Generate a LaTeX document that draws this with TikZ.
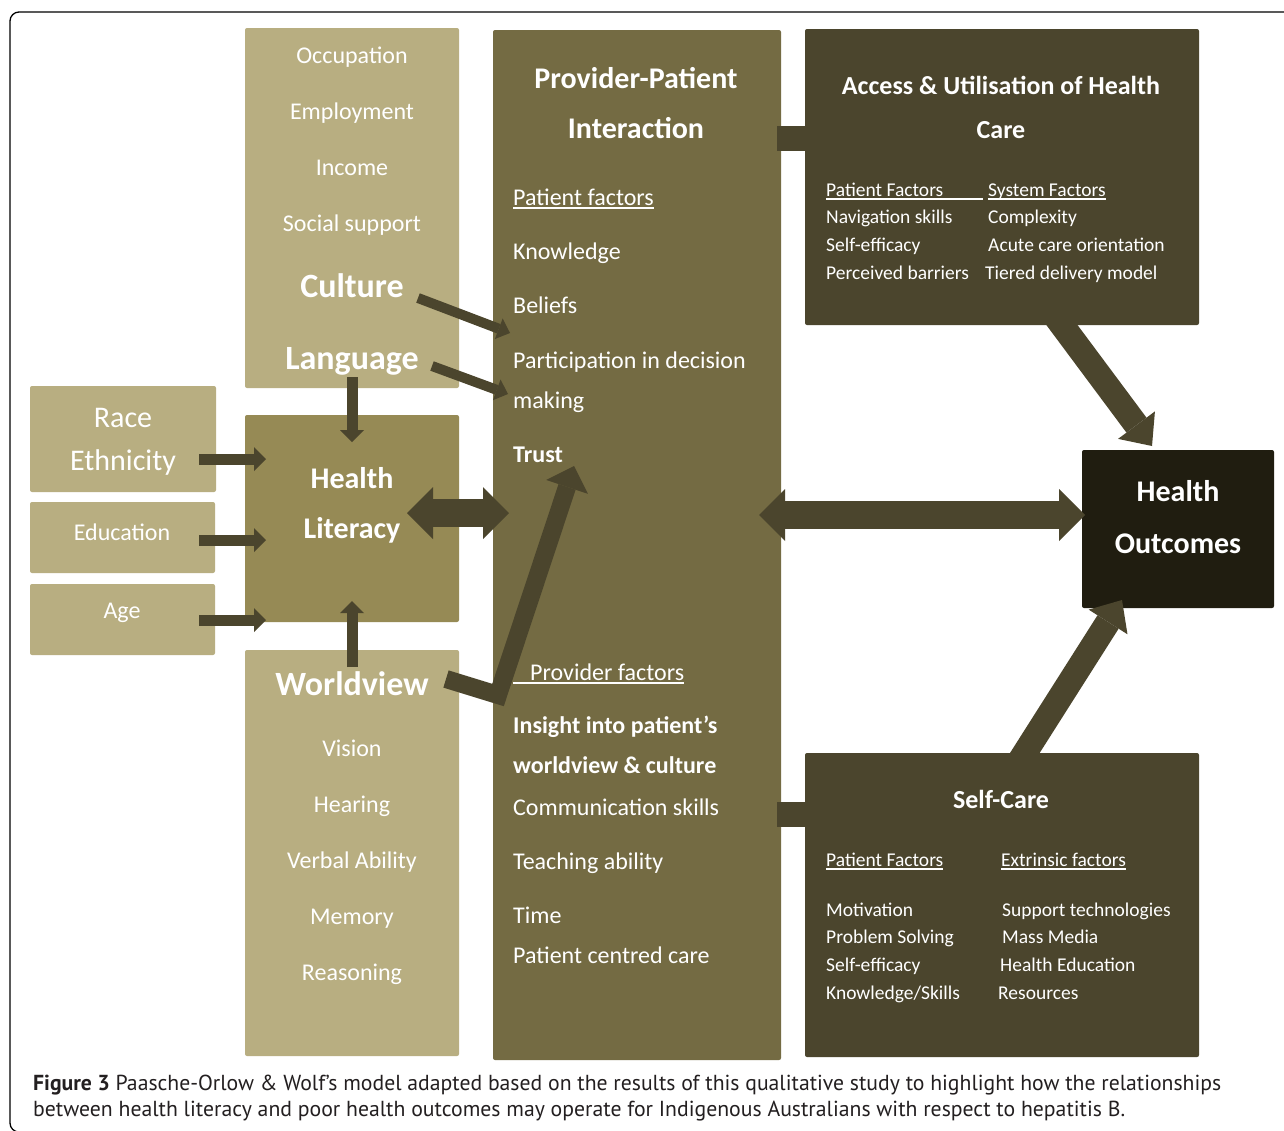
\documentclass[tikz,border=0pt]{standalone}
\usepackage{fontspec}
\setmainfont{Carlito}
\newfontfamily\capfont{PT Sans}
\usetikzlibrary{arrows.meta}
\definecolor{tanL}{HTML}{B8AE81}
\definecolor{tanHL}{HTML}{968A55}
\definecolor{oliveB}{HTML}{746B43}
\definecolor{darkB}{HTML}{4B452D}
\definecolor{blackB}{HTML}{201D10}
\definecolor{capc}{HTML}{231F20}
\newcommand\myul[1]{\setbox0=\hbox{#1}\rlap{\rule[-3.6pt]{\wd0}{1.3pt}}\box0}
\tikzset{
  box/.style={fill=#1, draw=none, rounded corners=2pt, anchor=north west, inner sep=0pt, outer sep=0pt},
  fs/.style={font=\fontsize{#1}{#1}\selectfont},
  fsb/.style={font=\fontsize{#1}{#1}\selectfont\bfseries},
  wt/.style={text=white, inner sep=0pt, anchor=base},
  wl/.style={text=white, inner sep=0pt, anchor=base west},
  captext/.style={anchor=base west, inner sep=0pt, text=capc, font=\capfont\fontsize{20}{20}\selectfont},
  arS/.style={draw=darkB, line width=11pt, -{Triangle[length=12pt,width=24pt,line width=0pt]}},
  arC/.style={draw=darkB, line width=10pt, -{Triangle[length=12pt,width=22pt,line width=0pt]}},
  arT/.style={draw=darkB, line width=18pt, line join=miter, -{Triangle[length=22pt,width=44pt,line width=0pt]}},
  arD/.style={draw=darkB, line width=28pt, {Triangle[length=26pt,width=52pt,line width=0pt]}-{Triangle[length=26pt,width=52pt,line width=0pt]}},
  arL/.style={draw=darkB, line width=25pt, -{Triangle[length=26pt,width=46pt,line width=0pt]}},
}
\begin{document}
\begin{tikzpicture}[x=1pt,y=-1pt]
\useasboundingbox (0,0) rectangle (1284,1130);
\fill[white] (0,0) rectangle (1284,1130);
\draw[line width=1.3pt, rounded corners=9pt] (10,12) rectangle (1320,1132);

% boxes
\node[box=tanL, minimum width=214pt, minimum height=360pt] (occbox) at (245,28) {};
\node[box=tanHL, minimum width=214pt, minimum height=207pt] (hlbox) at (245,415) {};
\node[box=tanL, minimum width=214pt, minimum height=406pt] (wvbox) at (245,650) {};
\node[box=tanL, minimum width=186pt, minimum height=106pt] (racebox) at (30,386) {};
\node[box=tanL, minimum width=185pt, minimum height=71pt] (edubox) at (30,502) {};
\node[box=tanL, minimum width=185pt, minimum height=71pt] (agebox) at (30,584) {};
\node[box=oliveB, minimum width=288pt, minimum height=1030pt] (ppbox) at (493,30) {};
\node[box=darkB, minimum width=394pt, minimum height=296pt] (accbox) at (805,29) {};
\node[box=darkB, minimum width=394pt, minimum height=304pt] (scbox) at (805,753) {};
\node[box=blackB, minimum width=192pt, minimum height=158pt] (hobox) at (1082,450) {};
\node[box=darkB, rounded corners=0pt, minimum width=29pt, minimum height=25pt] (stubA) at (777,126) {};
\node[box=darkB, rounded corners=0pt, minimum width=29pt, minimum height=25pt] (stubB) at (777,802) {};

% top-left box texts
\foreach \t/\y [count=\i] in {Occupation/63, Employment/119, Income/175, Social support/231}
  \node[wt, fs=24] (oc\i) at (352,\y) {\t};
\node[wt, fsb=34] (culture) at (352,297) {Culture};
\node[wt, fsb=34] (language) at (352,369) {Language};

% left boxes
\node[wt, fs=30] (race) at (123,427) {Race};
\node[wt, fs=30] (ethn) at (123,470) {Ethnicity};
\node[wt, fs=24] (edu) at (122,540) {Education};
\node[wt, fs=24] (age) at (122,618) {Age};

% health literacy
\node[wt, fsb=30] (hl1) at (352,488) {Health};
\node[wt, fsb=30] (hl2) at (352,538) {Literacy};

% worldview box
\node[wt, fsb=34] (worldview) at (352,695) {Worldview};
\foreach \t/\y [count=\i] in {Vision/756, Hearing/812, Verbal Ability/868, Memory/924, Reasoning/980}
  \node[wt, fs=24] (wv\i) at (352,\y) {\t};

% provider-patient box
\node[wt, fsb=30] (pp1) at (636,88) {Provider-Patient};
\node[wt, fsb=30] (pp2) at (636,138) {Interaction};
\node[wl, fs=24] (pf) at (513,205) {\myul{Patient factors}};
\foreach \t/\y [count=\i] in {Knowledge/259, Beliefs/313, Participation in decision/368, making/408}
  \node[wl, fs=24] (pa\i) at (513,\y) {\t};
\node[wl, fsb=24] (trust) at (513,462) {Trust};
\node[wl, fs=24] (prf) at (513,680) {\myul{\hspace{17pt}Provider factors}};
\node[wl, fsb=24] (ins1) at (513,733) {Insight into patient’s};
\node[wl, fsb=24] (ins2) at (513,773) {worldview \& culture};
\foreach \t/\y [count=\i] in {Communication skills/815, Teaching ability/869, Time/923, Patient centred care/963}
  \node[wl, fs=24] (pr\i) at (513,\y) {\t};

% access box
\node[wt, fsb=26] (ac1) at (1001,94) {Access \& Utilisation of Health};
\node[wt, fsb=26] (ac2) at (1001,138) {Care};
\node[wl, fs=19.5] (acpf) at (826,196) {\myul{\makebox[157pt][l]{Patient Factors}}};
\node[wl, fs=19.5] (acsf) at (988,196) {\myul{System Factors}};
\foreach \t/\y [count=\i] in {Navigation skills/223, Self-efficacy/251, Perceived barriers/279}
  \node[wl, fs=19.5] (acl\i) at (826,\y) {\t};
\node[wl, fs=19.5] (acr1) at (988,223) {Complexity};
\node[wl, fs=19.5] (acr2) at (988,251) {Acute care orientation};
\node[wl, fs=19.5] (acr3) at (985,279) {Tiered delivery model};

% self-care box
\node[wt, fsb=26] (sc) at (1001,808) {Self-Care};
\node[wl, fs=19.5] (scpf) at (826,866) {\myul{Patient Factors}};
\node[wl, fs=19.5] (scef) at (1001,866) {\myul{Extrinsic factors}};
\node[wl, fs=19.5] (scl1) at (826,916) {Motivation};
\node[wl, fs=19.5] (scl2) at (826,943) {Problem Solving};
\node[wl, fs=19.5] (scl3) at (826,971) {Self-efficacy};
\node[wl, fs=19.5] (scl4) at (826,999) {Knowledge/Skills};
\node[wl, fs=19.5] (scr1) at (1002,916) {Support technologies};
\node[wl, fs=19.5] (scr2) at (1002,943) {Mass Media};
\node[wl, fs=19.5] (scr3) at (1000,971) {Health Education};
\node[wl, fs=19.5] (scr4) at (998,999) {Resources};

% health outcomes
\node[wt, fsb=30] (ho1) at (1178,501) {Health};
\node[wt, fsb=30] (ho2) at (1178,553) {Outcomes};

% arrow end points
\coordinate (raA) at (199,459); \coordinate (raB) at (266,459);
\coordinate (edA) at (199,540); \coordinate (edB) at (266,540);
\coordinate (agA) at (199,620); \coordinate (agB) at (266,620);
\coordinate (laA) at (352,377); \coordinate (laB) at (352,442);
\coordinate (wuA) at (352,667); \coordinate (wuB) at (352,601);
\coordinate (cuA) at (418,298); \coordinate (cuB) at (510,333);
\coordinate (lgA) at (432,366); \coordinate (lgB) at (508,394);
\coordinate (wvA) at (446,679); \coordinate (wvB) at (498,695); \coordinate (trT) at (574,466);
\coordinate (hlR) at (407,513); \coordinate (ppL) at (509,513);
\coordinate (ppR) at (759,515); \coordinate (hoL) at (1085,515);
\coordinate (acB) at (1050,309); \coordinate (hoT) at (1152,446);
\coordinate (scT) at (1014,770); \coordinate (hoB) at (1122,600);

% arrows
\draw[arS] (raA) -- (raB);
\draw[arS] (edA) -- (edB);
\draw[arS] (agA) -- (agB);
\draw[arS] (laA) -- (laB);
\draw[arS] (wuA) -- (wuB);
\draw[arC] (cuA) -- (cuB);
\draw[arC] (lgA) -- (lgB);
\draw[arT] (wvA) -- (wvB) -- (trT);
\draw[arD] (hlR) -- (ppL);
\draw[arD] (ppR) -- (hoL);
\draw[arL] (acB) -- (hoT);
\draw[arL] (scT) -- (hoB);

% caption
\node[captext] (cap1) at (33,1090)
  {\resizebox{1188pt}{!}{\textbf{Figure 3} Paasche-Orlow \& Wolf’s model adapted based on the results of this qualitative study to highlight how the relationships}};
\node[captext] (cap2) at (33,1116)
  {\resizebox{1092pt}{!}{between health literacy and poor health outcomes may operate for Indigenous Australians with respect to hepatitis B.}};
\end{tikzpicture}
\end{document}
